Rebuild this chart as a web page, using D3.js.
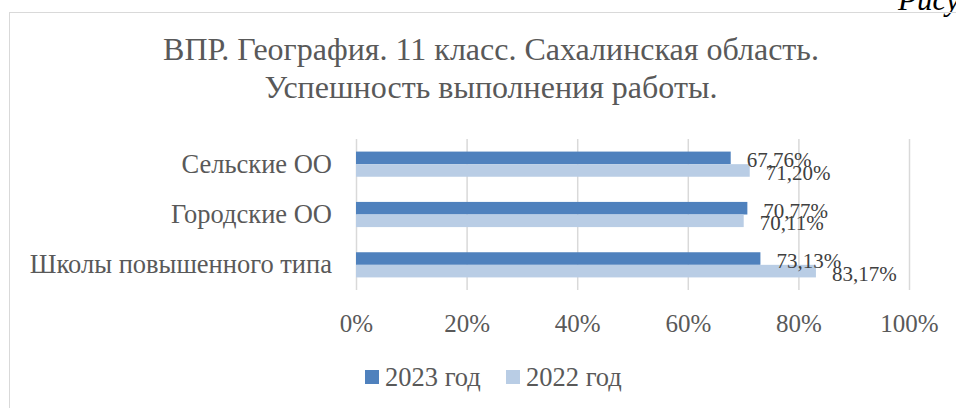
<!DOCTYPE html>
<html>
<head>
<meta charset="utf-8">
<script src="https://cdn.jsdelivr.net/npm/d3@7"></script>
<style>
	html, body { margin: 0; padding: 0; background: #fff; }
	svg { display: block; }
</style>
</head>
<body>
<div id="chart"></div>
<script>
	// data
	var categories = ["Сельские ОО", "Городские ОО", "Школы повышенного типа"];
	var seriesNames = ["2023 год", "2022 год"];
	var values2023 = [67.76, 70.77, 73.13];
	var values2022 = [71.20, 70.11, 83.17];
	var tickValues = [0, 20, 40, 60, 80, 100];
	var titleLines = ["ВПР. География. 11 класс. Сахалинская область.", "Успешность выполнения работы."];
	var colors = ["#4F81BD", "#B9CDE5"];

	var width = 956, height = 408;
	var plot = { left: 356, right: 909, top: 139, bottom: 290 };
	var textColor = "#595959";
	var serif = "'Liberation Serif', 'Times New Roman', serif";

	var ru = d3.formatLocale({ decimal: ",", thousands: " ", grouping: [3], currency: ["", " ₽"] });
	var fmt = ru.format(".2f");

	var svg = d3.select("#chart").append("svg")
		.attr("width", width).attr("height", height)
		.attr("font-family", serif);

	// caption from the page, cut off at the top right
	svg.append("text")
		.attr("x", 898).attr("y", 10)
		.attr("font-size", 31)
		.attr("font-style", "italic")
		.attr("fill", "#000")
		.text("Рисунок");

	// chart area border
	svg.append("rect")
		.attr("x", 9.5).attr("y", 12.5)
		.attr("width", 970).attr("height", 420)
		.attr("fill", "none")
		.attr("stroke", "#D9D9D9")
		.attr("stroke-width", 1);

	// title
	svg.append("g").selectAll("text")
		.data(titleLines)
		.join("text")
		.attr("x", 491)
		.attr("y", (d, i) => 60 + i * 38)
		.attr("text-anchor", "middle")
		.attr("fill", textColor)
		.attr("font-size", 32)
		.text(d => d);

	var x = d3.scaleLinear().domain([0, 100]).range([plot.left, plot.right]);
	var y = d3.scaleBand().domain(categories).range([plot.top, plot.bottom])
		.paddingInner(0.5).paddingOuter(0.25);
	var inner = d3.scaleBand().domain(seriesNames).range([0, y.bandwidth()]);

	// grid + value axis
	var xAxis = svg.append("g")
		.attr("transform", `translate(0,${plot.bottom})`)
		.call(d3.axisBottom(x)
			.tickValues(tickValues)
			.tickFormat(d => d + "%")
			.tickSize(-(plot.bottom - plot.top))
			.tickPadding(24));
	xAxis.attr("font-family", serif).attr("font-size", 25);
	xAxis.select(".domain").remove();
	xAxis.selectAll("line").attr("stroke", "#D9D9D9").attr("stroke-width", 1.5);
	xAxis.selectAll("text").attr("fill", textColor);

	// category axis
	var yAxis = svg.append("g")
		.attr("transform", `translate(${plot.left},0)`)
		.call(d3.axisLeft(y).tickSize(0).tickPadding(24));
	yAxis.attr("font-family", serif).attr("font-size", 26.5);
	yAxis.select(".domain").remove();
	yAxis.selectAll("text").attr("fill", textColor);

	var rows = categories.map((c, i) => ({
		cat: c,
		vals: [
			{ name: seriesNames[0], v: values2023[i], color: colors[0] },
			{ name: seriesNames[1], v: values2022[i], color: colors[1] }
		]
	}));

	var groups = svg.append("g").selectAll("g")
		.data(rows)
		.join("g")
		.attr("transform", d => `translate(0,${y(d.cat)})`);

	groups.selectAll("rect")
		.data(d => d.vals)
		.join("rect")
		.attr("x", x(0))
		.attr("y", d => inner(d.name))
		.attr("width", d => x(d.v) - x(0))
		.attr("height", inner.bandwidth())
		.attr("fill", d => d.color);

	groups.selectAll("text.lbl")
		.data(d => d.vals)
		.join("text")
		.attr("class", "lbl")
		.attr("x", d => x(d.v) + 16)
		.attr("y", d => inner(d.name) + inner.bandwidth() / 2)
		.attr("dy", "0.45em")
		.attr("fill", "#404040")
		.attr("font-size", 21)
		.text(d => fmt(d.v) + "%");

	// legend
	var legendX = [365, 506];
	var legend = svg.append("g").selectAll("g")
		.data(seriesNames)
		.join("g")
		.attr("transform", (d, i) => `translate(${legendX[i]},370)`);
	legend.append("rect")
		.attr("width", 14).attr("height", 14)
		.attr("fill", (d, i) => colors[i]);
	legend.append("text")
		.attr("x", 20).attr("y", 16)
		.attr("fill", textColor)
		.attr("font-size", 26.5)
		.text(d => d);
</script>
</body>
</html>
